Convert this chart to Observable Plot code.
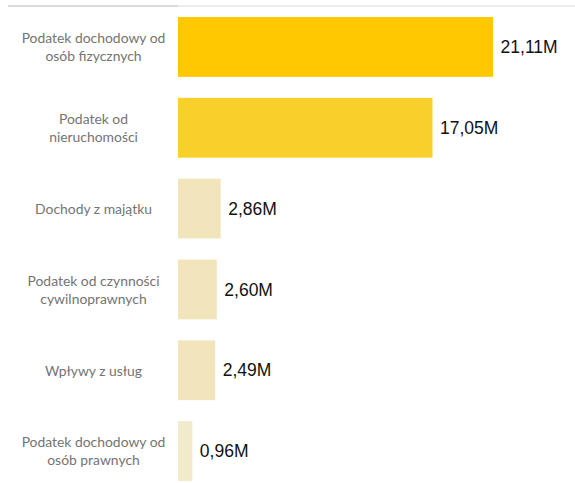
<!DOCTYPE html>
<html>
<head>
<meta charset="utf-8">
<script src="https://cdn.jsdelivr.net/npm/d3@7"></script>
<script src="https://cdn.jsdelivr.net/npm/@observablehq/plot@0.6"></script>
<style>
  html, body { margin: 0; padding: 0; background: #fff; }
  #topline { position: relative; height: 8px; width: 575px; }
  #topline .l { position: absolute; top: 5px; left: 8px; width: 170px; height: 2px; background: #d9d9d9; }
  #topline .r { position: absolute; top: 5px; left: 178px; width: 397px; height: 2px; background: #ededed; }
</style>
</head>
<body>
<div id="topline"><div class="l"></div><div class="r"></div></div>
<div id="chart"></div>
<script>
const categories = [
  "Podatek dochodowy od\nosób fizycznych",
  "Podatek od\nnieruchomości",
  "Dochody z majątku",
  "Podatek od czynności\ncywilnoprawnych",
  "Wpływy z usług",
  "Podatek dochodowy od\nosób prawnych"
];
const values = [21.11, 17.05, 2.86, 2.60, 2.49, 0.96];
const valueLabels = ["21,11M", "17,05M", "2,86M", "2,60M", "2,49M", "0,96M"];
const barColors = ["#ffc800", "#f9cf2c", "#f3e5bb", "#f3e5bb", "#f3e5bb", "#f1eacb"];

const data = categories.map((c, i) => ({category: c, value: values[i], label: valueLabels[i]}));

const chart = Plot.plot({
  width: 575,
  height: 475,
  marginLeft: 178,
  marginRight: 0,
  marginTop: 9,
  marginBottom: 2,
  x: {domain: [0, 26.6], axis: null},
  y: {domain: categories, paddingInner: 0.26, paddingOuter: 0, round: false, label: null},
  color: {domain: categories, range: barColors},
  style: {fontFamily: "Lato, 'Open Sans', sans-serif"},
  marks: [
    Plot.axisY({
      tickSize: 0,
      tickPadding: 85,
      textAnchor: "middle",
      fontSize: 13.9,
      lineHeight: 1.3,
      dy: -1,
      fill: "#747474",
      label: null
    }),
    Plot.barX(data, {x: "value", y: "category", fill: "category"}),
    Plot.text(data, {
      x: "value", y: "category", text: "label",
      textAnchor: "start", dx: 7,
      fontSize: 17.5, fill: "#111",
      fontFamily: "'Liberation Sans', Arial, sans-serif"
    })
  ]
});
document.getElementById("chart").appendChild(chart);
</script>
</body>
</html>
